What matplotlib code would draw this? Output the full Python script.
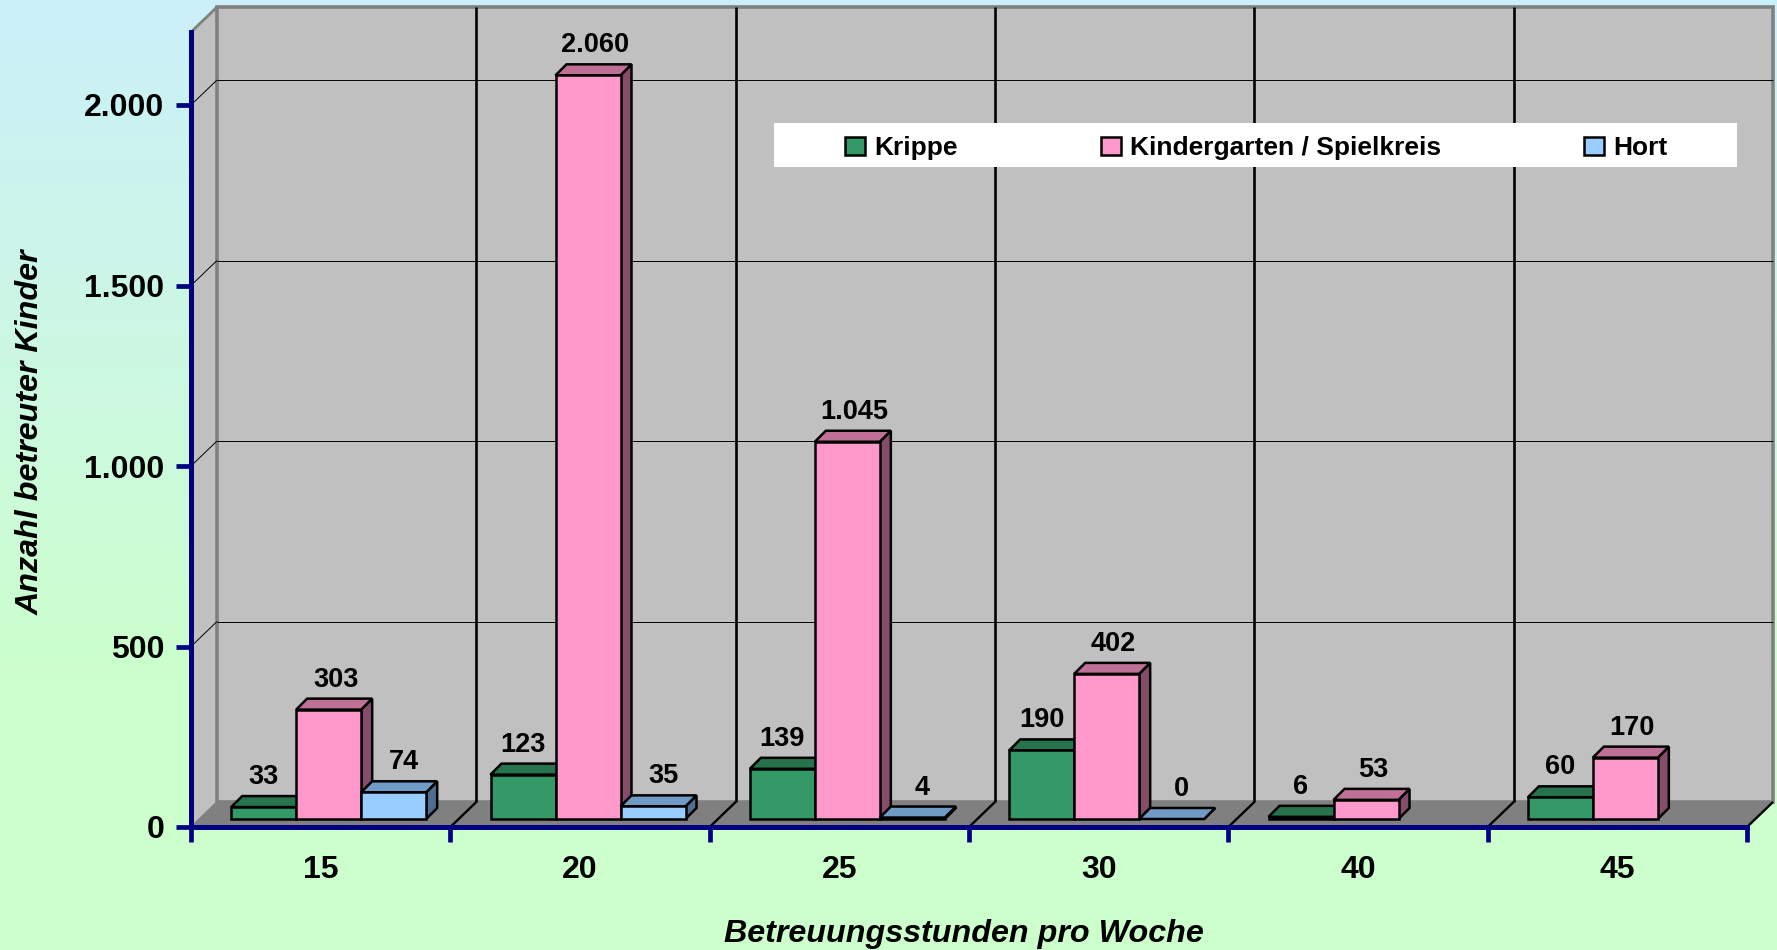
import numpy as np
import matplotlib
matplotlib.use("Agg")
import matplotlib.pyplot as plt
from matplotlib.patches import Polygon, Rectangle

plt.rcParams['font.family'] = ['Liberation Sans', 'DejaVu Sans']

# data
categories = ['15', '20', '25', '30', '40', '45']
krippe = [33, 123, 139, 190, 6, 60]
kindergarten = [303, 2060, 1045, 402, 53, 170]
hort = [74, 35, 4, 0, None, None]
series_names = ['Krippe', 'Kindergarten / Spielkreis', 'Hort']
y_ticks = [0, 500, 1000, 1500, 2000]

# face colours: front, top, side
green = ('#339966', '#26734D', '#26734D')
pink = ('#FF99CC', '#C06F97', '#864D6B')
blue = ('#99CCFF', '#6F9BC6', '#4F6D90')
navy = '#000080'

W, H = 1777, 950
fig = plt.figure(figsize=(W / 100, H / 100), dpi=100)

# background gradient
bg = fig.add_axes([0, 0, 1, 1])
top_col = np.array([203, 240, 250]) / 255
bot_col = np.array([204, 255, 204]) / 255
t = np.clip(np.linspace(0, 1, H) / 0.72, 0, 1)[:, None, None]
bg.imshow(top_col[None, None, :] * (1 - t) + bot_col[None, None, :] * t, aspect='auto')
bg.axis('off')

# front plane of the chart
x0, x1, y0 = 191, 1747, 827
px_x = (x1 - x0) / 6          # pixels per category
px_y = 0.361                  # pixels per unit
ymax = 2202
ax = fig.add_axes([x0 / W, 1 - y0 / H, (x1 - x0) / W, ymax * px_y / H])
ax.patch.set_visible(False)
ax.set_xlim(0, 6)
ax.set_ylim(0, ymax)

# 3d offsets, in data units
DX, DY = 26 / px_x, 25 / px_y
BX, BY = 8 / px_x, 8 / px_y
dx, dy = 11 / px_x, 11 / px_y
BW = 65 / px_x


def poly(pts, fc, ec='none', lw=0, z=1):
    ax.add_patch(Polygon(pts, closed=True, fc=fc, ec=ec, lw=lw, zorder=z,
                         clip_on=False, joinstyle='miter'))


def ln(xs, ys, c='black', lw=0.7, z=1.5):
    ax.plot(xs, ys, color=c, lw=lw, zorder=z, clip_on=False, solid_capstyle='butt')


# walls and floor
poly([(0, 0), (DX, DY), (DX, ymax + DY), (0, ymax)], '#C0C0C0')
poly([(DX, DY), (6 + DX, DY), (6 + DX, ymax + DY), (DX, ymax + DY)], '#C0C0C0', '#808080', 2.6)
poly([(0, 0), (6, 0), (6 + DX, DY), (DX, DY)], '#808080')
ln([0, DX], [ymax, ymax + DY], '#808080', 2.0)
ln([0, DX], [0, DY], '#808080', 1.2)

for v in y_ticks[1:]:
    ln([DX, 6 + DX], [v + DY, v + DY])
    ln([0, DX], [v, v + DY])
for i in range(1, 7):
    ln([i, i + DX], [0, DY], lw=1.7, z=1.6)
    if i < 6:
        ln([i + DX, i + DX], [DY, ymax + DY], lw=1.9)


def fmt(v):
    return f"{v:,}".replace(",", ".")


# data labels sit a bit apart per series in the original
label_dx = [0, 7, 10]

# bars
for i in range(len(categories)):
    for j, (vals, col) in enumerate(zip((krippe, kindergarten, hort), (green, pink, blue))):
        v = vals[i]
        if v is None:
            continue
        left = i + 0.5 + BX + (j - 1.5) * BW
        right = left + BW
        base = BY
        top = base + v
        z = 3 + j * 0.1
        e = dict(ec='black', lw=1.8, z=z)
        poly([(right, base), (right + dx, base + dy), (right + dx, top + dy), (right, top)], col[2], **e)
        poly([(left, top), (right, top), (right + dx, top + dy), (left + dx, top + dy)], col[1], **e)
        if v > 0:
            poly([(left, base), (right, base), (right, top), (left, top)], col[0], **e)
        ax.annotate(fmt(v), xy=((left + right) / 2, top), xytext=(label_dx[j], 30),
                    textcoords='offset pixels', ha='center', va='center',
                    fontsize=19.5, fontweight='bold', color='black', zorder=6)

# axes
for s in ('top', 'right'):
    ax.spines[s].set_visible(False)
for s in ('left', 'bottom'):
    ax.spines[s].set_color(navy)
    ax.spines[s].set_linewidth(3.6)
    ax.spines[s].set_zorder(2.5)
ax.set_xticks(range(7))
ax.set_xticklabels([])
ax.set_xticks(np.arange(len(categories)) + 0.5, minor=True)
ax.set_xticklabels(categories, minor=True, fontsize=23, fontweight='bold')
ax.tick_params(axis='x', which='major', length=11, width=3.4, color=navy)
ax.tick_params(axis='x', which='minor', length=0, pad=20)
ax.set_yticks(y_ticks)
ax.set_yticklabels([fmt(v) for v in y_ticks], fontsize=23, fontweight='bold')
ax.tick_params(axis='y', length=11, width=3.4, color=navy, pad=8)

# axis titles
fig.text(964 / W, 1 - 934 / H, 'Betreuungsstunden pro Woche', ha='center', va='center',
         fontsize=23.2, fontweight='bold', fontstyle='italic')
fig.text(31 / W, 1 - 432 / H, 'Anzahl betreuter Kinder', ha='center', va='center', rotation=90,
         fontsize=23.2, fontweight='bold', fontstyle='italic')

# legend on white strip
ax.add_patch(Rectangle((774 / W, 1 - 167 / H), (1737 - 774) / W, 44 / H, fc='white', ec='none',
                       transform=fig.transFigure, zorder=4, clip_on=False))
handles = [Rectangle((0, 0), 1, 1, fc=c[0], ec='black', lw=1.8) for c in (green, pink, blue)]
ax.legend(handles, series_names, ncol=3, frameon=False,
          prop={'weight': 'bold', 'size': 19},
          loc='center', bbox_to_anchor=(1256 / W, 1 - 148 / H), bbox_transform=fig.transFigure,
          handlelength=0.76, handleheight=0.7, handletextpad=0.34, columnspacing=5.42,
          borderpad=0).set_zorder(5)

fig.savefig('out.png', dpi=100)
